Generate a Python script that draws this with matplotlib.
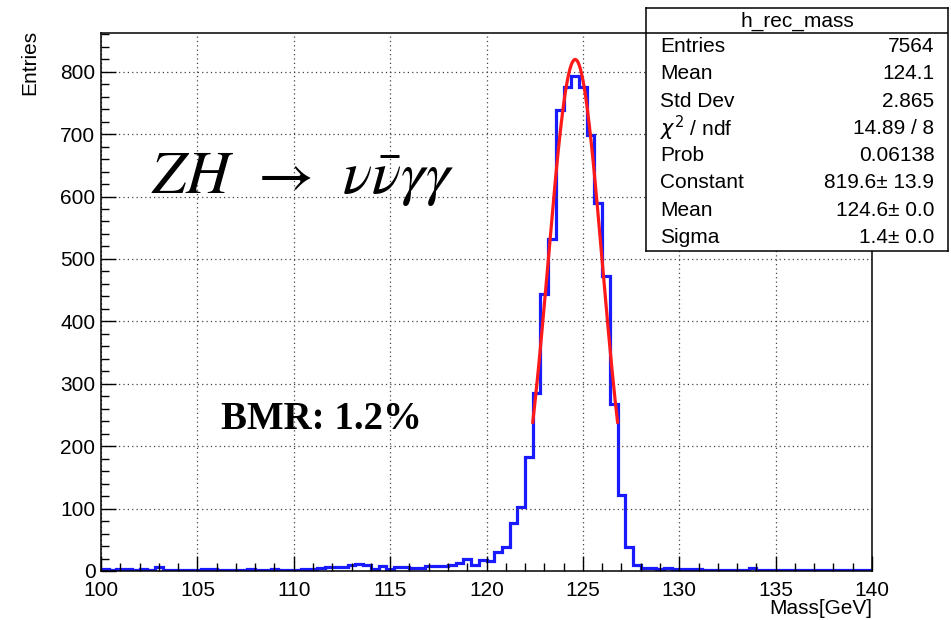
import numpy as np
import matplotlib
matplotlib.use("Agg")
import matplotlib.pyplot as plt
from matplotlib.ticker import MultipleLocator

plt.rcParams['font.family'] = ['Liberation Sans', 'DejaVu Sans']

# histogram h_rec_mass: 100 bins from 100 to 140 GeV
x_lo, x_hi, n_bins = 100.0, 140.0, 100
counts = [3, 2, 3, 3, 2, 3, 2, 6, 1, 1, 2, 1, 2, 3, 3, 2, 1, 2, 2, 3, 1, 2, 3, 2, 1,
          1, 4, 4, 5, 7, 7, 7, 10, 11, 9, 4, 8, 4, 7, 6, 5, 5, 8, 8, 8,
          10, 13, 19, 10, 17, 16, 31, 39, 77, 103, 183, 285, 444, 532, 738,
          775, 793, 775, 698, 590, 472, 267, 121, 38, 10,
          5, 5, 4, 5, 3, 3, 4, 3, 2, 2, 1, 1, 2, 2, 5, 1, 2, 1, 1, 1,
          2, 1, 1, 1, 2, 1, 1, 1, 1, 1]

# gaussian fit
fit_const, fit_mean, fit_sigma = 819.6, 124.6, 1.4
fit_range = (122.4, 126.8)

stat_title = "h_rec_mass"
stat_labels = ["Entries", "Mean", "Std Dev", r"$\chi^{2}$ / ndf", "Prob",
               "Constant", "Mean", "Sigma"]
stat_values = ["7564", "124.1", "2.865", "14.89 / 8", "0.06138",
               "819.6\u00b1 13.9", "124.6\u00b1 0.0", "1.4\u00b1 0.0"]

W, H = 951, 620
fig = plt.figure(figsize=(W / 100, H / 100), dpi=100)
ax = fig.add_axes([101 / W, 1 - 571 / H, 771 / W, 538 / H])

edges = np.linspace(x_lo, x_hi, n_bins + 1)
ax.stairs(counts, edges, color='#1a1aff', lw=2.3, baseline=0)

xf = np.linspace(fit_range[0], fit_range[1], 300)
yf = fit_const * np.exp(-0.5 * ((xf - fit_mean) / fit_sigma) ** 2)
ax.plot(xf, yf, color='#ff1a1a', lw=2.3)

ax.set_xlim(x_lo, x_hi)
ax.set_ylim(0, 862)
ax.xaxis.set_major_locator(MultipleLocator(5))
ax.xaxis.set_minor_locator(MultipleLocator(1))
ax.yaxis.set_major_locator(MultipleLocator(100))
ax.yaxis.set_minor_locator(MultipleLocator(20))
ax.tick_params(which='both', direction='in', top=False, right=False,
               labelsize=15, width=1)
ax.tick_params(which='major', length=10.5)
ax.tick_params(which='minor', length=5.5)
ax.tick_params(axis='x', pad=7)
ax.tick_params(axis='y', pad=4)
ax.grid(True, which='major', color='#444444', lw=0.9, linestyle=(0, (1, 2.5)))
for s in ax.spines.values():
    s.set_linewidth(1.1)

ax.text(1.0, -0.069, "Mass[GeV]", transform=ax.transAxes, ha='right',
        va='center', fontsize=15)
ax.text(-0.092, 1.005, "Entries", transform=ax.transAxes, ha='center',
        va='top', rotation=90, fontsize=15)

ax.text(102.6, 605, r"$ZH\;\,\rightarrow\;\,\nu\bar{\nu}\gamma\gamma$",
        fontsize=44, math_fontfamily='stix', ha='left', va='baseline')
ax.text(106.2, 228, "BMR: 1.2%", fontsize=28, fontweight='bold',
        family='Liberation Serif', ha='left', va='baseline')

# stats box
bx = fig.add_axes([646 / W, 1 - 251 / H, 302 / W, 243 / H])
bx.set_xlim(0, 1)
bx.set_ylim(0, 243)
bx.set_xticks([])
bx.set_yticks([])
bx.set_facecolor('white')
for s in bx.spines.values():
    s.set_linewidth(1.1)
bx.axhline(243 - 25, color='black', lw=1.1)
bx.text(0.5, 243 - 13, stat_title, ha='center', va='center', fontsize=15)
row_h = 218 / len(stat_labels)
for i, (lab, val) in enumerate(zip(stat_labels, stat_values)):
    yy = 218 - (i + 0.5) * row_h
    bx.text(0.047, yy, lab, ha='left', va='center', fontsize=15)
    bx.text(0.955, yy, val, ha='right', va='center', fontsize=15)

fig.savefig("out.png", dpi=100)
